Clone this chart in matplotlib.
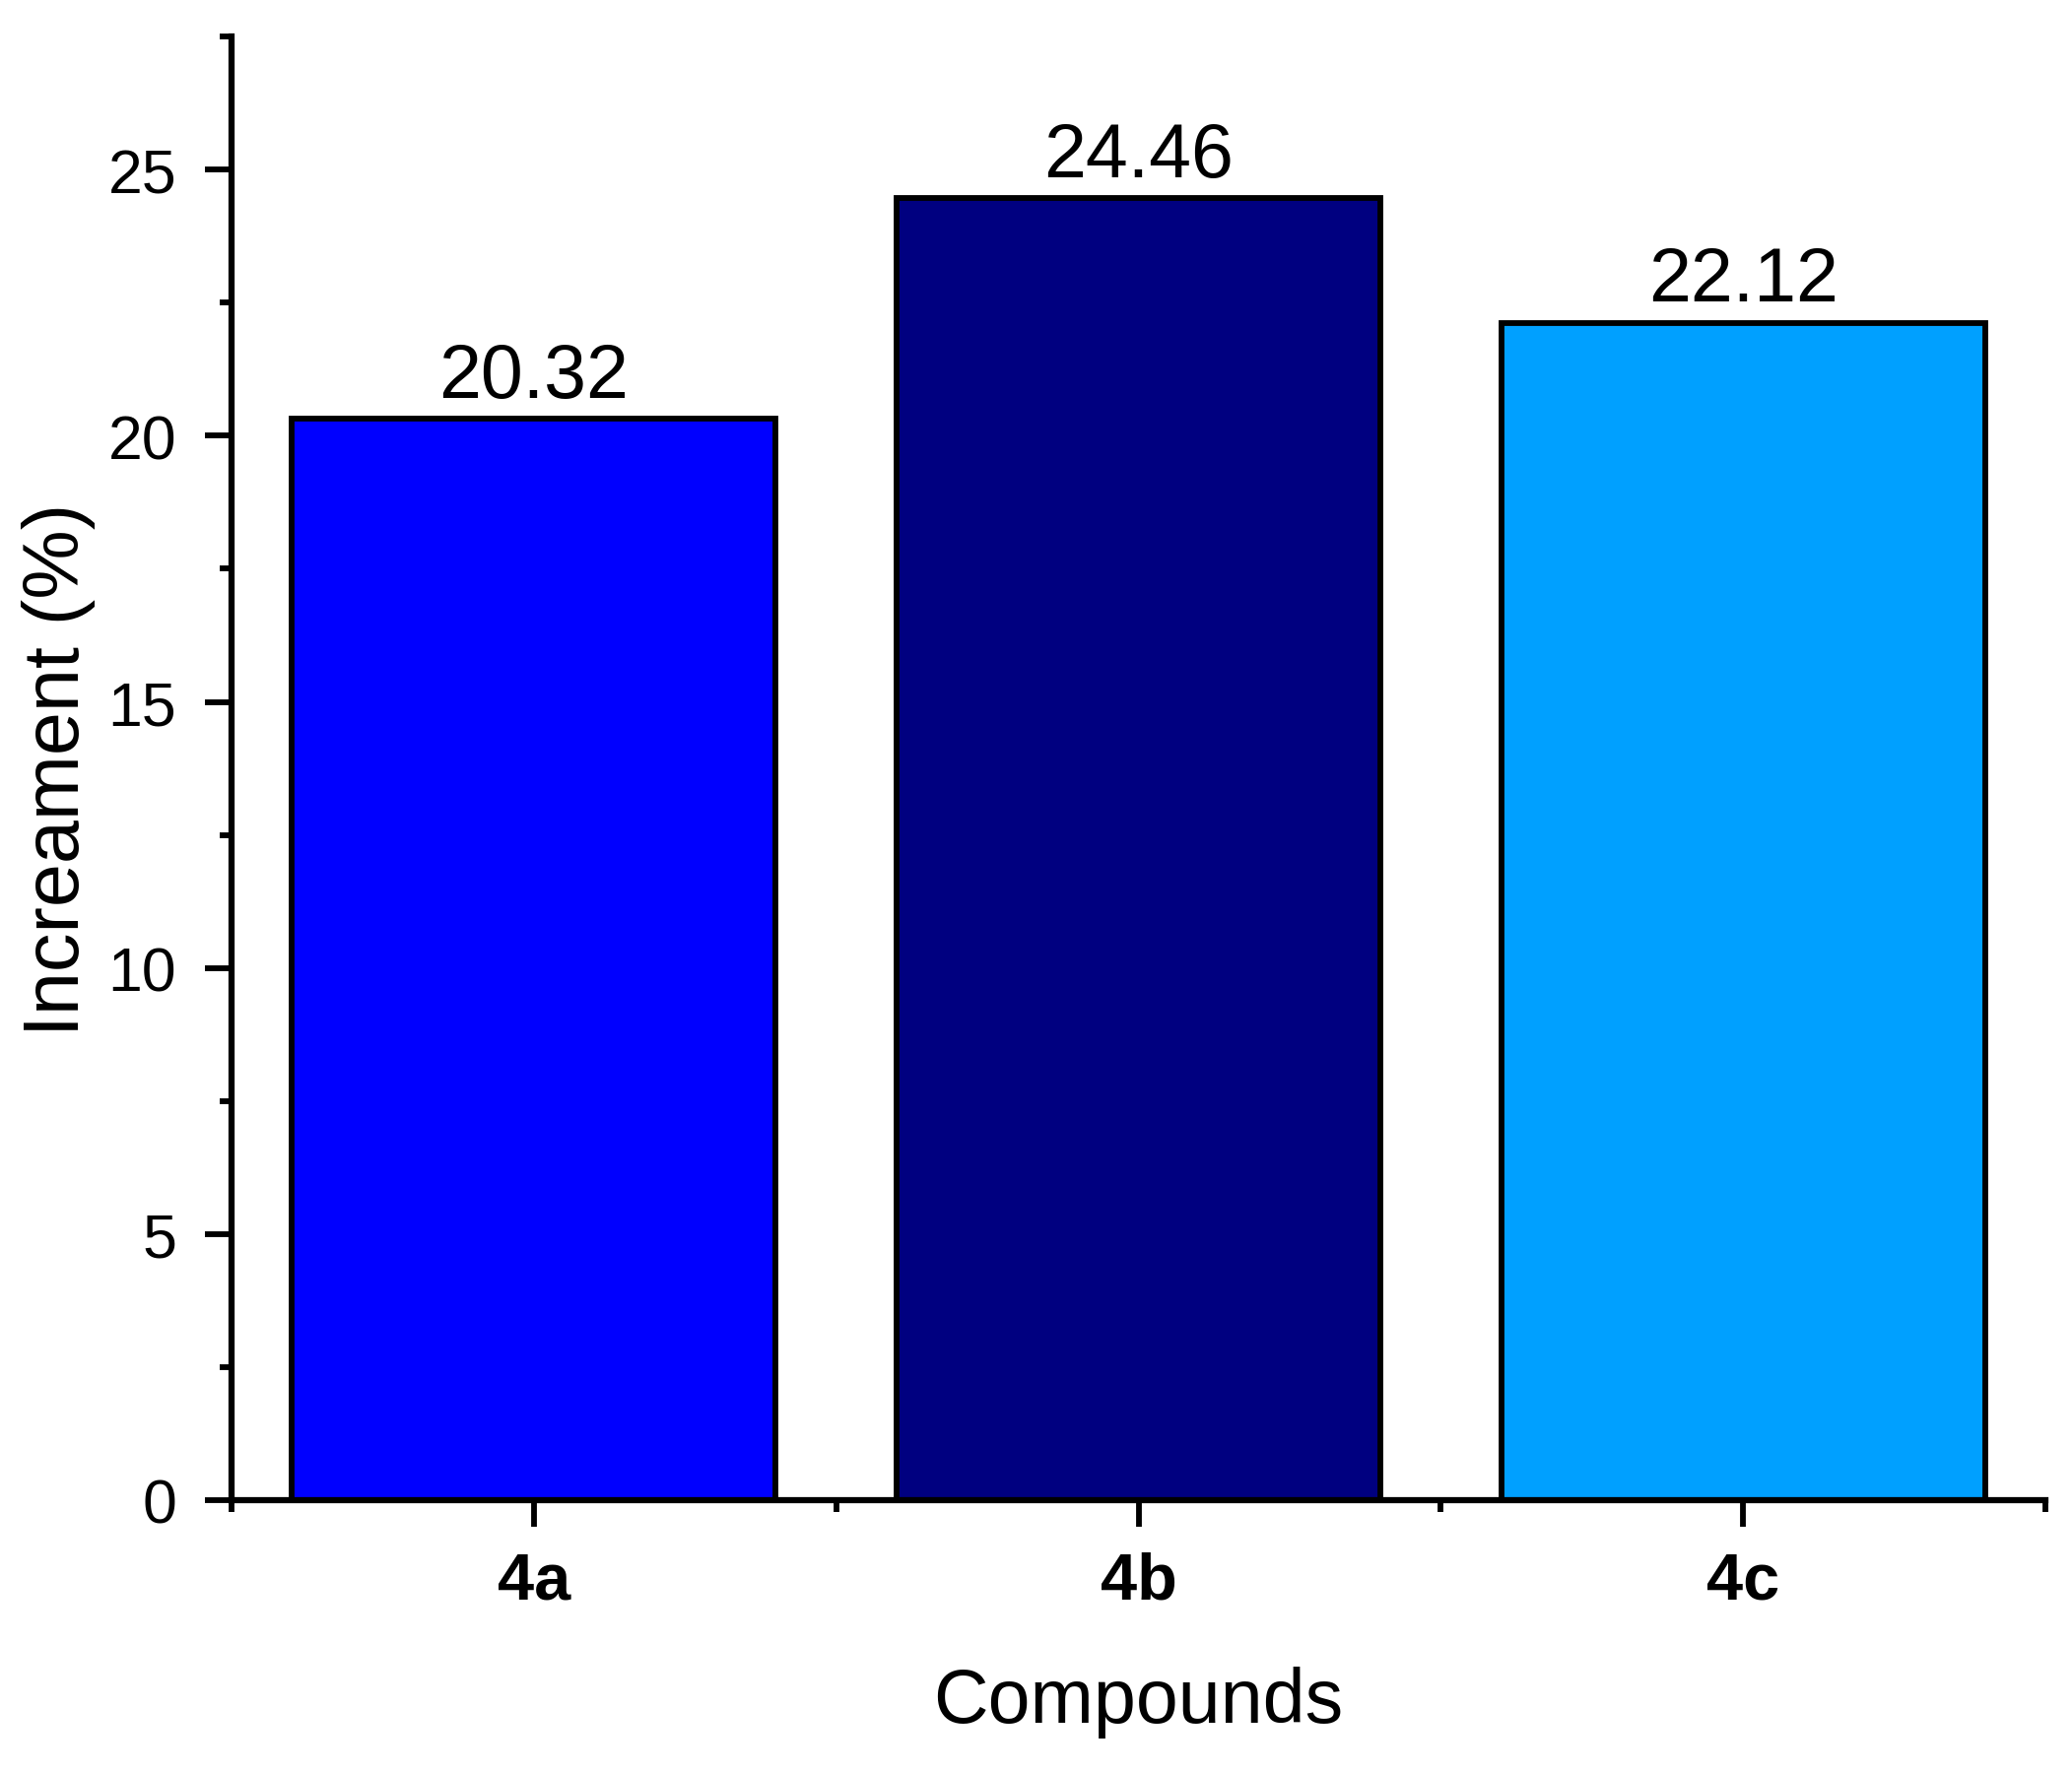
import matplotlib
matplotlib.use("Agg")
import matplotlib.pyplot as plt
from matplotlib.ticker import MultipleLocator, FixedLocator

compounds = ['4a', '4b', '4c']
increment = [20.32, 24.46, 22.12]
bar_colors = ['#0000FF', '#000080', '#00A0FF']

plt.rcParams['font.family'] = ['Liberation Sans', 'DejaVu Sans']

fig = plt.figure(figsize=(7.01, 6.003), dpi=300)
ax = fig.add_axes([235 / 2103, 1 - 1524 / 1801, (2076 - 235) / 2103, (1524 - 38) / 1801])

x = list(range(1, len(compounds) + 1))
bars = ax.bar(x, increment, width=0.8, color=bar_colors, edgecolor='black', linewidth=1.4, zorder=2)

for xi, v in zip(x, increment):
    ax.annotate(f'{v:.2f}', (xi, v), xytext=(0, 1.5), textcoords='offset points',
                ha='center', va='bottom', fontsize=18.5)

ax.set_xlim(0.5, 3.5)
ax.set_ylim(0, 27.5)
ax.set_xticks(x)
ax.set_xticklabels(compounds, fontweight='bold', fontsize=16)
ax.xaxis.set_minor_locator(FixedLocator([0.5, 1.5, 2.5, 3.5]))
ax.yaxis.set_major_locator(MultipleLocator(5))
ax.yaxis.set_minor_locator(MultipleLocator(2.5))

ax.tick_params(axis='both', which='major', direction='out', length=6.4, width=1.4, labelsize=15)
ax.tick_params(axis='x', which='major', labelsize=16, pad=6)
ax.tick_params(axis='y', which='major', pad=7)
ax.tick_params(axis='both', which='minor', direction='out', length=2.9, width=1.4)

for side in ['top', 'right']:
    ax.spines[side].set_visible(False)
for side in ['left', 'bottom']:
    ax.spines[side].set_linewidth(1.5)

ax.set_xlabel('Compounds', fontsize=18.5, labelpad=13)
ax.set_ylabel('Increament (%)', fontsize=19, labelpad=3)

fig.savefig('out.png', dpi=300)
